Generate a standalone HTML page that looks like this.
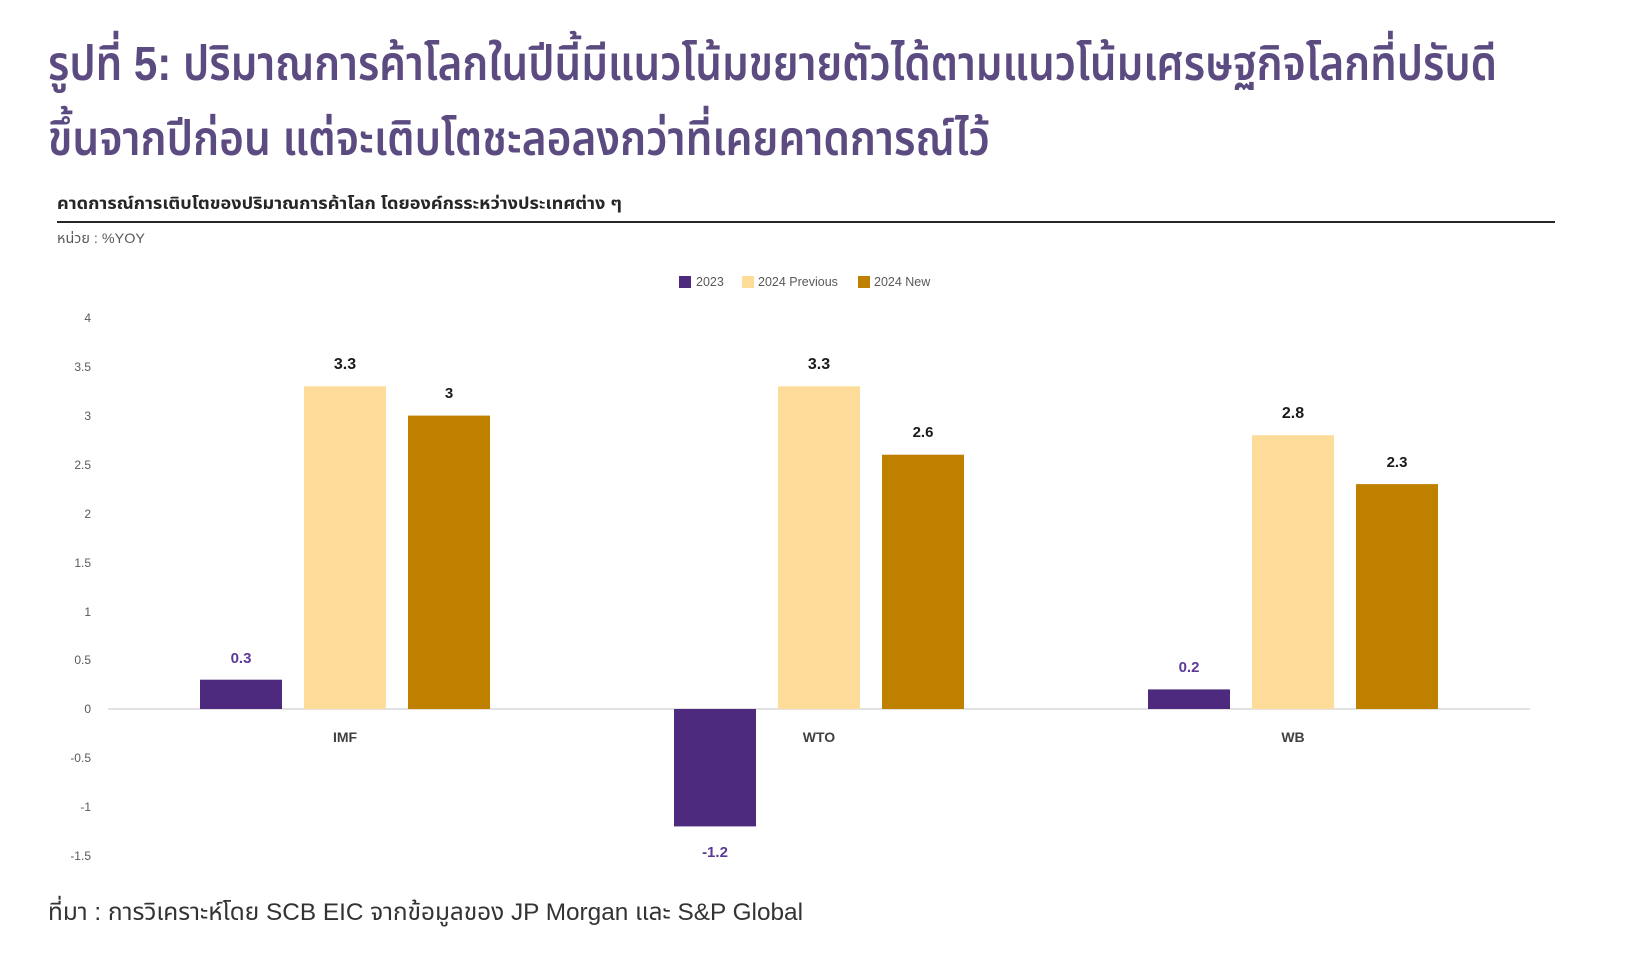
<!DOCTYPE html>
<html>
<head>
<meta charset="utf-8">
<style>
  html,body{margin:0;padding:0;background:#fff;}
  body{width:1651px;height:966px;overflow:hidden;}
  svg{display:block;}
  .th{font-family:"Liberation Sans","Noto Sans Thai","Noto Sans Thai UI","Loma","Garuda","Tlwg Typo","DejaVu Sans","Noto Sans CJK SC",sans-serif;}
  .lat{font-family:"Liberation Sans","DejaVu Sans",sans-serif;}
</style>
</head>
<body>
<svg width="1651" height="966" viewBox="0 0 1651 966" xmlns="http://www.w3.org/2000/svg">
  <rect x="0" y="0" width="1651" height="966" fill="#ffffff"/>

  <!-- Title -->
  <text class="th" x="48" y="80" font-size="48" font-weight="600" fill="#5b4b80" textLength="1449" lengthAdjust="spacingAndGlyphs">รูปที่ 5: ปริมาณการค้าโลกในปีนี้มีแนวโน้มขยายตัวได้ตามแนวโน้มเศรษฐกิจโลกที่ปรับดี</text>
  <text class="th" x="48" y="155" font-size="48" font-weight="600" fill="#5b4b80" textLength="942" lengthAdjust="spacingAndGlyphs">ขึ้นจากปีก่อน แต่จะเติบโตชะลอลงกว่าที่เคยคาดการณ์ไว้</text>

  <!-- Subtitle -->
  <text class="th" x="57" y="209" font-size="17" font-weight="bold" fill="#262626" textLength="565" lengthAdjust="spacingAndGlyphs">คาดการณ์การเติบโตของปริมาณการค้าโลก โดยองค์กรระหว่างประเทศต่าง ๆ</text>
  <line x1="57" y1="222" x2="1555" y2="222" stroke="#262626" stroke-width="2"/>
  <text class="th" x="57" y="243" font-size="14" fill="#595959" textLength="88" lengthAdjust="spacingAndGlyphs">หน่วย : %YOY</text>

  <!-- Legend -->
  <rect x="679" y="276" width="12" height="12" fill="#4e2a7f"/>
  <text class="lat" x="696" y="286" font-size="12.5" fill="#595959">2023</text>
  <rect x="742" y="276" width="12" height="12" fill="#fddc9a"/>
  <text class="lat" x="758" y="286" font-size="12.5" fill="#595959">2024 Previous</text>
  <rect x="858" y="276" width="12" height="12" fill="#bf8000"/>
  <text class="lat" x="874" y="286" font-size="12.5" fill="#595959">2024 New</text>

  <!-- Y axis tick labels -->
  <g class="lat" font-size="12" fill="#595959" text-anchor="end">
    <text x="91" y="322">4</text>
    <text x="91" y="371">3.5</text>
    <text x="91" y="420">3</text>
    <text x="91" y="469">2.5</text>
    <text x="91" y="518">2</text>
    <text x="91" y="567">1.5</text>
    <text x="91" y="616">1</text>
    <text x="91" y="664">0.5</text>
    <text x="91" y="713">0</text>
    <text x="91" y="762">-0.5</text>
    <text x="91" y="811">-1</text>
    <text x="91" y="860">-1.5</text>
  </g>

  <!-- Zero line -->
  <line x1="108" y1="709" x2="1530" y2="709" stroke="#d9d9d9" stroke-width="1.5"/>

  <!-- IMF (center 345) -->
  <rect x="200" y="679.7" width="82" height="29.3" fill="#4e2a7f"/>
  <rect x="304" y="386.3" width="82" height="322.7" fill="#fddc9a"/>
  <rect x="408" y="415.6" width="82" height="293.4" fill="#bf8000"/>

  <!-- WTO (center 819) -->
  <rect x="674" y="709" width="82" height="117.4" fill="#4e2a7f"/>
  <rect x="778" y="386.3" width="82" height="322.7" fill="#fddc9a"/>
  <rect x="882" y="454.7" width="82" height="254.3" fill="#bf8000"/>

  <!-- WB (center 1293) -->
  <rect x="1148" y="689.4" width="82" height="19.6" fill="#4e2a7f"/>
  <rect x="1252" y="435.2" width="82" height="273.8" fill="#fddc9a"/>
  <rect x="1356" y="484.1" width="82" height="224.9" fill="#bf8000"/>

  <!-- Data labels -->
  <g class="lat" font-weight="bold" text-anchor="middle">
    <text x="241" y="663" font-size="15" fill="#5b3a96">0.3</text>
    <text x="345" y="369" font-size="16" fill="#1a1a1a">3.3</text>
    <text x="449" y="398" font-size="15" fill="#1a1a1a">3</text>

    <text x="715" y="857" font-size="15" fill="#5b3a96">-1.2</text>
    <text x="819" y="369" font-size="16" fill="#1a1a1a">3.3</text>
    <text x="923" y="437" font-size="15" fill="#1a1a1a">2.6</text>

    <text x="1189" y="672" font-size="15" fill="#5b3a96">0.2</text>
    <text x="1293" y="418" font-size="16" fill="#1a1a1a">2.8</text>
    <text x="1397" y="467" font-size="15" fill="#1a1a1a">2.3</text>
  </g>

  <!-- Category labels -->
  <g class="lat" font-size="14" font-weight="bold" fill="#404040" text-anchor="middle">
    <text x="345" y="742">IMF</text>
    <text x="819" y="742">WTO</text>
    <text x="1293" y="742">WB</text>
  </g>

  <!-- Footnote -->
  <text class="th" x="48" y="920" font-size="24" fill="#333333" textLength="755" lengthAdjust="spacingAndGlyphs">ที่มา : การวิเคราะห์โดย SCB EIC จากข้อมูลของ JP Morgan และ S&amp;P Global</text>
</svg>
</body>
</html>
